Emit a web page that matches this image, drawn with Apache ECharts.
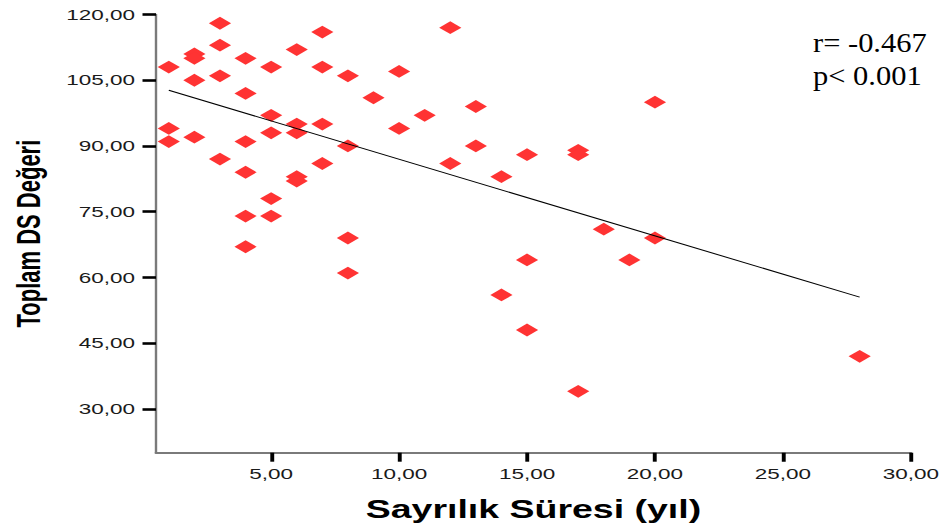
<!DOCTYPE html>
<html>
<head>
<meta charset="utf-8">
<script src="https://cdn.jsdelivr.net/npm/echarts@6/dist/echarts.min.js"></script>
<style>
  html, body { margin: 0; padding: 0; background: #fff; overflow: hidden; width: 944px; height: 531px; }
  /* the reference picture is stretched horizontally by ~1.5x; reproduce that */
  #chart { width: 629.33px; height: 531px; transform: scaleX(1.5); transform-origin: 0 0; }
</style>
</head>
<body>
<div id="chart"></div>
<script>
// ---- data ----
const xValues = [1,1,1, 2,2,2,2, 3,3,3,3, 4,4,4,4,4,4, 5,5,5,5,5, 6,6,6,6,6, 7,7,7,7, 8,8,8,8, 9, 10,10, 11, 12,12, 13,13, 14,14, 15,15,15, 17,17,17, 18, 19, 20,20, 28];
const yValues = [108,94,91, 111,110,105,92, 118,113,106,87, 110,102,91,84,74,67, 108,97,93,78,74, 112,95,93,83,82, 116,108,95,86, 106,90,69,61, 101, 107,94, 97, 117,86, 99,90, 83,56, 88,64,48, 89,88,34, 71, 64, 100,69, 42];
const fitX = [1, 28];
const fitY = [102.7, 55.5];
const xTicks = [5, 10, 15, 20, 25, 30];
const yTicks = [30, 45, 60, 75, 90, 105, 120];
const xName = 'Sayrılık Süresi (yıl)';
const yName = 'Toplam DS Değeri';
const statLines = ['r= -0.467', 'p< 0.001'];

const points = xValues.map((x, i) => [x, yValues[i]]);
const fitLine = fitX.map((x, i) => [x, fitY[i]]);
const fmt = v => v.toFixed(2).replace('.', ',');

const chart = echarts.init(document.getElementById('chart'), null, { renderer: 'svg' });
chart.setOption({
  animation: false,
  backgroundColor: '#fff',
  grid: { left: 101.8, right: 20.7, top: 14.5, bottom: 78.3, containLabel: false },
  xAxis: {
    type: 'value', min: 0.5, max: 30,
    name: xName, nameLocation: 'middle', nameGap: 44,
    nameTextStyle: { fontFamily: 'Liberation Sans', fontWeight: 'bold', fontSize: 25, color: '#000' },
    axisLine: { show: true, onZero: false, lineStyle: { color: '#7a7a7a', width: 2 } },
    axisTick: { show: true, customValues: xTicks, length: 9, lineStyle: { color: '#000', width: 2.6 } },
    axisLabel: { customValues: xTicks, formatter: fmt, margin: 14, fontFamily: 'Liberation Sans', fontSize: 15, color: '#1a1a1a' },
    splitLine: { show: false }
  },
  yAxis: {
    type: 'value', min: 20, max: 120,
    name: yName, nameLocation: 'middle', nameGap: 74, nameRotate: 90,
    nameTextStyle: { fontFamily: 'Liberation Sans', fontWeight: 'bold', fontSize: 22, color: '#000' },
    axisLine: { show: true, onZero: false, lineStyle: { color: '#7a7a7a', width: 1.6 } },
    axisTick: { show: true, customValues: yTicks, length: 9, lineStyle: { color: '#000', width: 2.6 } },
    axisLabel: { customValues: yTicks, formatter: fmt, margin: 14, fontFamily: 'Liberation Sans', fontSize: 15, color: '#1a1a1a' },
    splitLine: { show: false }
  },
  series: [
    {
      type: 'scatter', data: points, symbol: 'diamond', symbolSize: [14.8, 12.8],
      itemStyle: { color: '#ff3333', opacity: 1 }, z: 3
    },
    {
      type: 'line', data: fitLine, symbol: 'none', silent: true,
      lineStyle: { color: '#000', width: 1 }, z: 4
    }
  ],
  graphic: statLines.map((t, i) => ({
    type: 'text', x: 542, y: 29 + i * 33, scaleX: 0.753,
    style: { text: t, font: '27px "Liberation Serif"', fill: '#000', align: 'left', verticalAlign: 'top' }
  }))
});
</script>
</body>
</html>
